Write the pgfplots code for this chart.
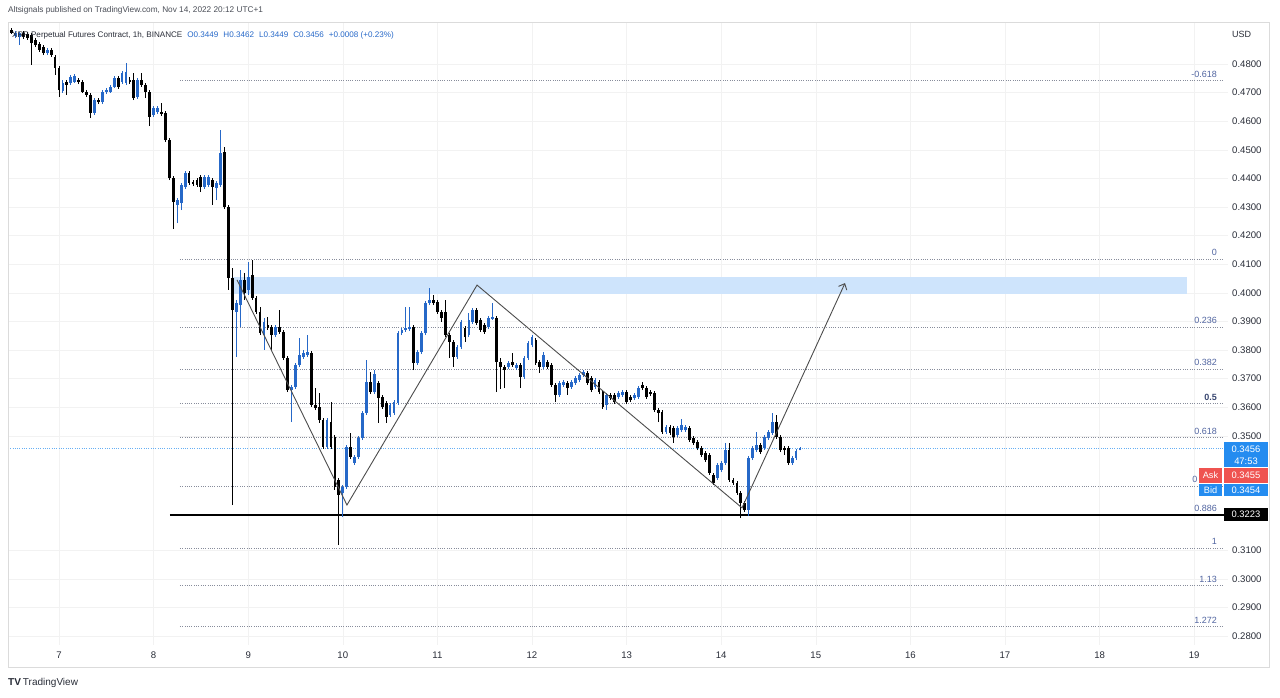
\documentclass[border=0pt]{standalone}
\usepackage{pgfplots}
\pgfplotsset{compat=1.18}
\usepackage{pgfplotstable}
\usepackage{fontspec}
\setmainfont{Liberation Sans}
\usetikzlibrary{arrows.meta}
\definecolor{upc}{RGB}{38,104,200}
\definecolor{fibline}{RGB}{135,140,155}
\definecolor{fiblab}{RGB}{80,100,160}
\definecolor{zone}{RGB}{206,228,252}
\definecolor{pblue}{RGB}{36,140,240}
\definecolor{askred}{RGB}{239,83,80}
\definecolor{txt}{RGB}{40,44,55}

\pgfplotstableread{
t o hi lo c
-12 0.4919 0.4926 0.4905 0.4908
-11 0.4898 0.4915 0.4891 0.4908
-10 0.4894 0.4912 0.4866 0.4908
-9 0.4908 0.4915 0.4887 0.4894
-8 0.4905 0.4912 0.4884 0.4891
-7 0.4901 0.4908 0.4797 0.4873
-6 0.4884 0.4891 0.4859 0.4866
-5 0.4870 0.4877 0.4842 0.4849
-4 0.4859 0.4866 0.4831 0.4838
-3 0.4838 0.4856 0.4831 0.4849
-2 0.4849 0.4856 0.4824 0.4831
-1 0.4824 0.4831 0.4762 0.4786
0 0.4786 0.4793 0.4685 0.4709
1 0.4706 0.4744 0.4699 0.4734
2 0.4737 0.4744 0.4692 0.4727
3 0.4734 0.4762 0.4727 0.4755
4 0.4737 0.4765 0.4734 0.4758
5 0.4744 0.4751 0.4730 0.4737
6 0.4737 0.4744 0.4699 0.4702
7 0.4702 0.4709 0.4685 0.4692
8 0.4692 0.4699 0.4611 0.4629
9 0.4629 0.4681 0.4622 0.4674
10 0.4674 0.4681 0.4660 0.4667
11 0.4667 0.4709 0.4660 0.4702
12 0.4702 0.4716 0.4695 0.4709
13 0.4702 0.4727 0.4699 0.4720
14 0.4720 0.4758 0.4716 0.4751
15 0.4751 0.4758 0.4713 0.4720
16 0.4737 0.4776 0.4730 0.4769
17 0.4734 0.4803 0.4727 0.4772
18 0.4744 0.4755 0.4730 0.4737
19 0.4744 0.4769 0.4674 0.4681
20 0.4685 0.4751 0.4678 0.4744
21 0.4744 0.4769 0.4720 0.4727
22 0.4727 0.4734 0.4681 0.4702
23 0.4702 0.4709 0.4583 0.4615
24 0.4622 0.4653 0.4615 0.4646
25 0.4632 0.4653 0.4625 0.4646
26 0.4632 0.4664 0.4618 0.4625
27 0.4629 0.4636 0.4527 0.4534
28 0.4534 0.4541 0.4394 0.4401
29 0.4401 0.4408 0.4223 0.4317
30 0.4307 0.4331 0.4244 0.4324
31 0.4314 0.4384 0.4289 0.4377
32 0.4370 0.4426 0.4363 0.4419
33 0.4419 0.4426 0.4377 0.4384
34 0.4387 0.4394 0.4373 0.4380
35 0.4394 0.4401 0.4370 0.4377
36 0.4405 0.4412 0.4352 0.4370
37 0.4370 0.4412 0.4363 0.4405
38 0.4377 0.4412 0.4370 0.4405
39 0.4394 0.4401 0.4307 0.4370
40 0.4366 0.4391 0.4324 0.4384
41 0.4377 0.4569 0.4370 0.4489
42 0.4492 0.4510 0.4293 0.4300
43 0.4300 0.4307 0.4010 0.4052
44 0.4052 0.4087 0.3258 0.3940
45 0.3933 0.3975 0.3776 0.3964
46 0.3957 0.4080 0.3880 0.4045
47 0.4045 0.4069 0.3975 0.3999
48 0.4010 0.4108 0.3992 0.4055
49 0.4062 0.4115 0.3975 0.3982
50 0.3982 0.3989 0.3926 0.3933
51 0.3933 0.3950 0.3852 0.3859
52 0.3852 0.3912 0.3800 0.3898
53 0.3887 0.3915 0.3870 0.3877
54 0.3880 0.3887 0.3800 0.3852
55 0.3852 0.3887 0.3845 0.3880
56 0.3880 0.3940 0.3856 0.3863
57 0.3863 0.3870 0.3765 0.3772
58 0.3772 0.3779 0.3653 0.3660
59 0.3660 0.3678 0.3548 0.3671
60 0.3671 0.3755 0.3664 0.3748
61 0.3748 0.3842 0.3741 0.3783
62 0.3776 0.3800 0.3769 0.3790
63 0.3783 0.3852 0.3776 0.3793
64 0.3790 0.3796 0.3601 0.3608
65 0.3608 0.3667 0.3590 0.3597
66 0.3601 0.3650 0.3545 0.3555
67 0.3555 0.3562 0.3454 0.3461
68 0.3461 0.3562 0.3454 0.3555
69 0.3548 0.3618 0.3454 0.3461
70 0.3496 0.3503 0.3311 0.3321
71 0.3346 0.3353 0.3118 0.3293
72 0.3300 0.3328 0.3216 0.3321
73 0.3321 0.3468 0.3314 0.3461
74 0.3461 0.3510 0.3419 0.3426
75 0.3405 0.3433 0.3398 0.3426
76 0.3426 0.3499 0.3419 0.3492
77 0.3492 0.3587 0.3485 0.3580
78 0.3580 0.3765 0.3573 0.3688
79 0.3688 0.3723 0.3646 0.3653
80 0.3653 0.3730 0.3646 0.3716
81 0.3685 0.3692 0.3545 0.3632
82 0.3636 0.3643 0.3594 0.3601
83 0.3615 0.3622 0.3545 0.3566
84 0.3573 0.3615 0.3566 0.3608
85 0.3580 0.3625 0.3573 0.3618
86 0.3615 0.3866 0.3608 0.3859
87 0.3859 0.3877 0.3852 0.3870
88 0.3870 0.3950 0.3863 0.3877
89 0.3873 0.3950 0.3866 0.3880
90 0.3880 0.3887 0.3730 0.3755
91 0.3755 0.3800 0.3748 0.3793
92 0.3793 0.3866 0.3786 0.3859
93 0.3859 0.3971 0.3852 0.3964
94 0.3964 0.4017 0.3957 0.3975
95 0.3975 0.3992 0.3957 0.3964
96 0.3968 0.3975 0.3926 0.3933
97 0.3933 0.3940 0.3898 0.3912
98 0.3933 0.3975 0.3845 0.3852
99 0.3852 0.3859 0.3772 0.3828
100 0.3828 0.3835 0.3741 0.3776
101 0.3776 0.3817 0.3769 0.3810
102 0.3810 0.3905 0.3803 0.3898
103 0.3877 0.3884 0.3828 0.3845
104 0.3852 0.3929 0.3845 0.3905
105 0.3898 0.3947 0.3891 0.3940
106 0.3940 0.3947 0.3887 0.3894
107 0.3905 0.3912 0.3863 0.3870
108 0.3887 0.3894 0.3856 0.3863
109 0.3880 0.3919 0.3873 0.3912
110 0.3908 0.3964 0.3905 0.3915
111 0.3912 0.3919 0.3653 0.3758
112 0.3758 0.3772 0.3664 0.3741
113 0.3741 0.3748 0.3667 0.3730
114 0.3741 0.3762 0.3734 0.3755
115 0.3758 0.3790 0.3741 0.3748
116 0.3737 0.3755 0.3730 0.3748
117 0.3748 0.3755 0.3667 0.3706
118 0.3706 0.3779 0.3699 0.3772
119 0.3772 0.3831 0.3765 0.3824
120 0.3817 0.3852 0.3810 0.3845
121 0.3835 0.3842 0.3748 0.3755
122 0.3758 0.3765 0.3720 0.3741
123 0.3741 0.3793 0.3734 0.3783
124 0.3758 0.3765 0.3734 0.3741
125 0.3748 0.3755 0.3671 0.3678
126 0.3678 0.3685 0.3618 0.3643
127 0.3643 0.3692 0.3636 0.3685
128 0.3678 0.3695 0.3671 0.3688
129 0.3685 0.3692 0.3643 0.3667
130 0.3671 0.3695 0.3664 0.3688
131 0.3685 0.3709 0.3678 0.3702
132 0.3695 0.3720 0.3688 0.3713
133 0.3713 0.3730 0.3706 0.3723
134 0.3720 0.3727 0.3678 0.3685
135 0.3702 0.3709 0.3653 0.3660
136 0.3671 0.3702 0.3664 0.3695
137 0.3688 0.3695 0.3646 0.3653
138 0.3653 0.3660 0.3594 0.3601
139 0.3608 0.3650 0.3590 0.3643
140 0.3643 0.3650 0.3625 0.3632
141 0.3643 0.3650 0.3611 0.3618
142 0.3636 0.3657 0.3629 0.3650
143 0.3643 0.3660 0.3636 0.3653
144 0.3653 0.3660 0.3611 0.3618
145 0.3636 0.3643 0.3618 0.3625
146 0.3632 0.3650 0.3625 0.3643
147 0.3636 0.3674 0.3629 0.3667
148 0.3678 0.3688 0.3660 0.3667
149 0.3667 0.3674 0.3629 0.3636
150 0.3653 0.3660 0.3639 0.3646
151 0.3650 0.3657 0.3583 0.3590
152 0.3590 0.3597 0.3548 0.3580
153 0.3583 0.3590 0.3506 0.3513
154 0.3513 0.3538 0.3506 0.3531
155 0.3531 0.3538 0.3503 0.3510
156 0.3527 0.3534 0.3475 0.3496
157 0.3503 0.3534 0.3496 0.3527
158 0.3520 0.3559 0.3513 0.3538
159 0.3520 0.3538 0.3513 0.3531
160 0.3527 0.3534 0.3478 0.3485
161 0.3492 0.3499 0.3468 0.3475
162 0.3478 0.3485 0.3450 0.3457
163 0.3457 0.3464 0.3426 0.3433
164 0.3440 0.3447 0.3408 0.3415
165 0.3433 0.3440 0.3363 0.3370
166 0.3363 0.3370 0.3328 0.3335
167 0.3353 0.3405 0.3346 0.3398
168 0.3380 0.3412 0.3373 0.3405
169 0.3405 0.3475 0.3398 0.3450
170 0.3450 0.3475 0.3339 0.3346
171 0.3346 0.3353 0.3328 0.3335
172 0.3335 0.3342 0.3293 0.3300
173 0.3300 0.3307 0.3212 0.3265
174 0.3265 0.3272 0.3234 0.3240
175 0.3240 0.3429 0.3219 0.3422
176 0.3422 0.3464 0.3415 0.3457
177 0.3450 0.3513 0.3443 0.3468
178 0.3468 0.3475 0.3436 0.3443
179 0.3457 0.3503 0.3450 0.3496
180 0.3492 0.3520 0.3485 0.3513
181 0.3510 0.3580 0.3503 0.3548
182 0.3548 0.3573 0.3489 0.3496
183 0.3496 0.3503 0.3443 0.3450
184 0.3457 0.3464 0.3433 0.3450
185 0.3457 0.3464 0.3398 0.3405
186 0.3405 0.3429 0.3398 0.3422
187 0.3422 0.3454 0.3415 0.3447
188 0.3449 0.3462 0.3449 0.3456
}\candles

\begin{document}
\begin{tikzpicture}[x=1pt,y=1pt,
  fib/.style={draw=fibline, line width=0.7pt, dash pattern=on 0.9pt off 1.4pt},
  fl/.style={anchor=south east, inner sep=0pt, yshift=3pt, text=fiblab, font=\fontsize{9}{10}\selectfont}]
\begin{axis}[
  name=main, scale only axis,
  width=1220pt, height=623pt,
  xmin=6.4609, xmax=19.3573, ymin=0.27685, ymax=0.49469,
  axis line style={draw=none}, major tick length=0pt,
  xtick={7,8,9,10,11,12,13,14,15,16,17,18,19},
  xticklabels={7,8,9,10,11,12,13,14,15,16,17,18,19},
  xticklabel style={anchor=center, yshift=-10pt, inner sep=0pt, font=\fontsize{9.6}{11}\selectfont, text=txt},
  ytick={0.28,0.29,0.30,0.31,0.35,0.36,0.37,0.38,0.39,0.40,0.41,0.42,0.43,0.44,0.45,0.46,0.47,0.48},
  yticklabels={0.2800,0.2900,0.3000,0.3100,0.3500,0.3600,0.3700,0.3800,0.3900,0.4000,0.4100,0.4200,0.4300,0.4400,0.4500,0.4600,0.4700,0.4800},
  yticklabel pos=right,
  yticklabel style={anchor=west, inner sep=0pt, xshift=4pt, font=\fontsize{9.6}{11}\selectfont, text=txt},
  grid=major, grid style={black!5, line width=0.5pt},
]
% zone
\addplot[fill=zone, draw=none] coordinates {(8.829,0.3996) (18.924,0.3996) (18.924,0.4055) (8.829,0.4055)} -- cycle;
% fib levels
\pgfplotsinvokeforeach{0.4742,0.4118,0.3880,0.3733,0.3613,0.3494,0.3324,0.3223,0.3108,0.2977,0.2834}{
  \addplot[fib] coordinates {(8.279,#1) (19.294,#1)};
}
% current price line
\addplot[draw=pblue!70, line width=0.6pt, dash pattern=on 0.9pt off 1.4pt] coordinates {(6.4609,0.3456) (19.3573,0.3456)};
% support
\addplot[black, line width=1.4pt] coordinates {(8.173,0.3223) (19.3573,0.3223)};
% wicks
\addplot[-, upc, line width=0.9pt, no markers, quiver={u=0, v=\thisrow{hi}-\thisrow{lo}},
  restrict expr to domain={\thisrow{c}-\thisrow{o}}{0:1}]
  table[x expr=7+\thisrow{t}/24, y=lo]{\candles};
\addplot[-, black, line width=0.9pt, no markers, quiver={u=0, v=\thisrow{hi}-\thisrow{lo}},
  restrict expr to domain={\thisrow{c}-\thisrow{o}}{-1:-0.00001}]
  table[x expr=7+\thisrow{t}/24, y=lo]{\candles};
% bodies
\addplot[-, upc, line width=2.8pt, no markers, quiver={u=0, v=\thisrow{c}-\thisrow{o}},
  restrict expr to domain={\thisrow{c}-\thisrow{o}}{0:1}]
  table[x expr=7+\thisrow{t}/24, y=o]{\candles};
\addplot[-, black, line width=2.8pt, no markers, quiver={u=0, v=\thisrow{o}-\thisrow{c}},
  restrict expr to domain={\thisrow{c}-\thisrow{o}}{-1:-0.00001}]
  table[x expr=7+\thisrow{t}/24, y=c]{\candles};
% zigzag
\addplot[black!70, line width=0.9pt, -{Straight Barb[length=5pt,width=9pt]}] coordinates {(8.882,0.4045) (10.044,0.3258) (11.419,0.4027) (14.220,0.3248) (15.309,0.4034)};
% fib labels
\node[fl] at (axis cs:19.241,0.4742) {-0.618};
\node[fl] at (axis cs:19.241,0.4118) {0};
\node[fl] at (axis cs:19.241,0.3880) {0.236};
\node[fl] at (axis cs:19.241,0.3733) {0.382};
\node[fl, text=fiblab!70!black] at (axis cs:19.241,0.3613) {\textbf{0.5}};
\node[fl] at (axis cs:19.241,0.3494) {0.618};
\node[fl] at (axis cs:19.036,0.3324) {0};
\node[fl] at (axis cs:19.241,0.3223) {0.886};
\node[fl] at (axis cs:19.241,0.3108) {1};
\node[fl] at (axis cs:19.241,0.2977) {1.13};
\node[fl] at (axis cs:19.241,0.2834) {1.272};
\end{axis}
\begin{scope}[shift={(main.south west)}, xshift=-8pt, yshift=-53pt]
\path (0,0) rectangle (1280,698);
\draw[black!14, line width=0.8pt] (8,676) rectangle (1269,31);
% header texts
\node[anchor=west, inner sep=0pt, text=txt!85] at (8,688) {\fontsize{8.25}{10}\selectfont Altsignals published on TradingView.com, Nov 14, 2022 20:12 UTC+1};
\node[anchor=west, inner sep=0pt, text=txt] at (12,663) {\fontsize{8.1}{10}\selectfont XRP Perpetual Futures Contract, 1h, BINANCE\hspace{5pt}\textcolor{upc}{O0.3449\hspace{5pt}H0.3462\hspace{5pt}L0.3449\hspace{5pt}C0.3456\hspace{5pt}+0.0008 (+0.23\%)}};
\node[anchor=west, inner sep=0pt, text=txt] at (1232,664) {\fontsize{9}{10}\selectfont USD};
% price boxes
\fill[pblue] (1224,256) rectangle (1268,231);
\node[text=white, inner sep=0pt] at (1246,249) {\fontsize{9.4}{10}\selectfont 0.3456};
\node[text=white, inner sep=0pt] at (1246,236.5) {\fontsize{9.4}{10}\selectfont 47:53};
\fill[askred] (1199,230) rectangle (1222,215);
\node[text=white, inner sep=0pt] at (1210.5,222.5) {\fontsize{9.2}{10}\selectfont Ask};
\fill[askred] (1224,230) rectangle (1268,215);
\node[text=white, inner sep=0pt] at (1246,222.5) {\fontsize{9.4}{10}\selectfont 0.3455};
\fill[pblue] (1199,214) rectangle (1222,202);
\node[text=white, inner sep=0pt] at (1210.5,208) {\fontsize{9.2}{10}\selectfont Bid};
\fill[pblue] (1224,214) rectangle (1268,202);
\node[text=white, inner sep=0pt] at (1246,208) {\fontsize{9.4}{10}\selectfont 0.3454};
\fill[black] (1224,190) rectangle (1268,177);
\node[text=white, inner sep=0pt] at (1246,183.5) {\fontsize{9.4}{10}\selectfont 0.3223};
% logo
\node[anchor=west, inner sep=0pt, text=txt] at (8,15) {\fontsize{10}{11}\selectfont\textbf{TV}\hspace{2pt}TradingView};
\end{scope}
\end{tikzpicture}
\end{document}
